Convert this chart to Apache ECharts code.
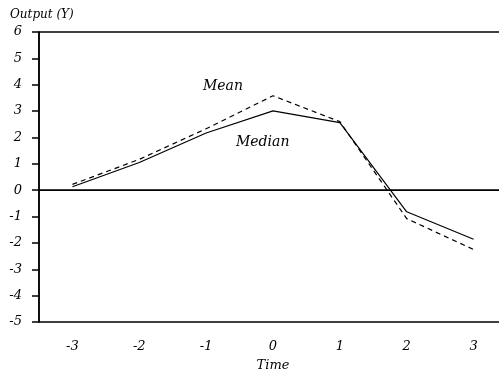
<!DOCTYPE html>
<html>
<head>
<meta charset="utf-8">
<script src="https://cdn.jsdelivr.net/npm/echarts@6/dist/echarts.min.js"></script>
<style>
  html, body { margin: 0; padding: 0; background: #fff; }
  #chart { width: 499px; height: 375px; }
</style>
</head>
<body>
<div id="chart"></div>
<script>
const timeLabels = ["-3", "-2", "-1", "0", "1", "2", "3"];
const medianValues = [0.13, 1.05, 2.17, 3.01, 2.56, -0.82, -1.86];
const meanValues = [0.22, 1.17, 2.33, 3.58, 2.6, -1.08, -2.25];

const font = "DejaVu Serif";
const chart = echarts.init(document.getElementById("chart"));

chart.setOption({
  animation: false,
  grid: {
    left: 39, width: 468, top: 32, bottom: 53,
    outerBoundsMode: "none",
    show: true, borderColor: "#000", borderWidth: 1.5, backgroundColor: "transparent"
  },
  xAxis: {
    type: "category",
    data: timeLabels,
    boundaryGap: true,
    name: "Time",
    nameLocation: "middle",
    nameGap: 37,
    nameTextStyle: { fontFamily: font, fontStyle: "italic", fontSize: 13, color: "#000" },
    axisLine: { lineStyle: { color: "#000", width: 1.5 } },
    axisTick: { length: 7, lineStyle: { color: "#000", width: 1.5 } },
    axisLabel: { margin: 18, fontFamily: font, fontStyle: "italic", fontSize: 13, color: "#000" }
  },
  yAxis: {
    type: "value",
    min: -5, max: 6, interval: 1,
    splitLine: { show: false },
    axisLine: { show: true, lineStyle: { color: "#000", width: 1.5 } },
    axisTick: { show: true, length: 7, lineStyle: { color: "#000", width: 1.5 } },
    axisLabel: { margin: 17, fontFamily: font, fontStyle: "italic", fontSize: 13, color: "#000" }
  },
  graphic: [
    { type: "text", left: 10, top: 9, style: { text: "Output (Y)", font: "italic 12px 'DejaVu Serif'", fill: "#000" } },
    { type: "text", left: 203, top: 79, style: { text: "Mean", font: "italic 14px 'DejaVu Serif'", fill: "#000" } },
    { type: "text", left: 236, top: 135, style: { text: "Median", font: "italic 14px 'DejaVu Serif'", fill: "#000" } }
  ],
  series: [
    {
      name: "Median",
      type: "line",
      data: medianValues,
      symbol: "none",
      lineStyle: { color: "#000", width: 1.2 },
      markLine: {
        silent: true,
        symbol: "none",
        label: { show: false },
        lineStyle: { color: "#000", width: 1, type: "solid" },
        data: [{ yAxis: 0 }]
      }
    },
    {
      name: "Mean",
      type: "line",
      data: meanValues,
      symbol: "none",
      lineStyle: { color: "#000", width: 1.2, type: [5, 4] }
    }
  ]
});
</script>
</body>
</html>
